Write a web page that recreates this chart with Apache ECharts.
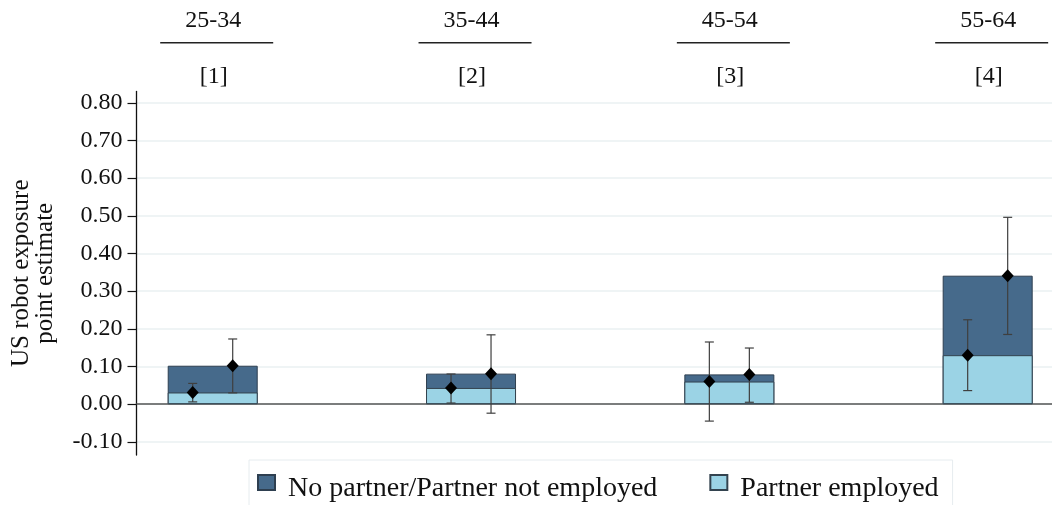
<!DOCTYPE html>
<html>
<head>
<meta charset="utf-8">
<script src="https://cdn.jsdelivr.net/npm/echarts@6/dist/echarts.min.js"></script>
<style>
  html, body { margin: 0; padding: 0; background: #fff; }
  #chart { width: 1052px; height: 505px; }
</style>
</head>
<body>
<div id="chart"></div>
<script>
// Age groups (column headers) and their model numbers
const ageGroups = ['25-34', '35-44', '45-54', '55-64'];
const modelNums = ['[1]', '[2]', '[3]', '[4]'];
const groupPos = [1, 2, 3, 4];

// Point estimates with confidence bounds
const noPartnerEst = [0.102, 0.081, 0.079, 0.341];
const noPartnerLo  = [0.030, -0.024, 0.005, 0.185];
const noPartnerHi  = [0.173, 0.184, 0.149, 0.496];

const partnerEst = [0.031, 0.043, 0.060, 0.130];
const partnerLo  = [0.006, 0.003, -0.045, 0.036];
const partnerHi  = [0.055, 0.080, 0.165, 0.224];

// Y axis tick values
const yTicks = [-0.1, 0, 0.1, 0.2, 0.3, 0.4, 0.5, 0.6, 0.7, 0.8];

const seriesNames = ['No partner/Partner not employed', 'Partner employed'];

const FONT = "'Liberation Serif', 'Times New Roman', serif";
const DARK = '#466a8b';
const LIGHT = '#9bd3e5';

// Whisker + diamond marker, shifted sideways inside the bar by dx pixels
function makeRenderer(dx) {
  return function (params, api) {
    const x = api.value(0);
    const mid = api.coord([x, api.value(1)]);
    const lo = api.coord([x, api.value(2)]);
    const hi = api.coord([x, api.value(3)]);
    const cx = mid[0] + dx;
    const cap = 4.5;
    const lineStyle = { stroke: '#3f3f3f', lineWidth: 1.2, fill: null };
    return {
      type: 'group',
      children: [
        { type: 'line', shape: { x1: cx, y1: hi[1], x2: cx, y2: lo[1] }, style: lineStyle },
        { type: 'line', shape: { x1: cx - cap, y1: hi[1], x2: cx + cap, y2: hi[1] }, style: lineStyle },
        { type: 'line', shape: { x1: cx - cap, y1: lo[1], x2: cx + cap, y2: lo[1] }, style: lineStyle },
        {
          type: 'polygon',
          shape: { points: [[cx, mid[1] - 6.5], [cx + 6, mid[1]], [cx, mid[1] + 6.5], [cx - 6, mid[1]]] },
          style: { fill: '#000' }
        }
      ]
    };
  };
}

const chart = echarts.init(document.getElementById('chart'), null, { renderer: 'canvas' });

const xMin = 0.705, xMax = 4.249;

chart.setOption({
  animation: false,
  backgroundColor: '#fff',
  textStyle: { fontFamily: FONT, color: '#111' },
  grid: { left: 136.5, right: 0, top: 91.5, bottom: 50, containLabel: false },
  legend: {
    data: seriesNames,
    left: 249,
    top: 460,
    orient: 'horizontal',
    icon: 'rect',
    itemWidth: 17,
    itemHeight: 15,
    itemGap: 52,
    padding: [14, 14, 30, 8],
    borderColor: '#e6ecef',
    borderWidth: 1,
    formatter: function (name) { return '{t|' + name + '}'; },
    textStyle: {
      fontFamily: FONT, fontSize: 28, color: '#111',
      rich: { t: { fontFamily: FONT, fontSize: 28, color: '#111', padding: [12, 0, 0, 8] } }
    }
  },
  xAxis: [
    {
      type: 'value',
      min: xMin,
      max: xMax,
      axisLine: { show: true, onZero: true, lineStyle: { color: '#555', width: 1.5 } },
      axisTick: { show: false },
      axisLabel: { show: false },
      splitLine: { show: false }
    },
    {
      type: 'value',
      position: 'top',
      min: xMin,
      max: xMax,
      axisLine: { show: false },
      axisTick: { show: false },
      splitLine: { show: false },
      axisLabel: {
        customValues: groupPos,
        margin: -19,
        formatter: function (v) {
          const i = groupPos.indexOf(v);
          return '{a|' + ageGroups[i] + '}\n{s|}{l|}\n{b|' + modelNums[i] + '}';
        },
        rich: {
          a: { fontFamily: FONT, fontSize: 24, color: '#111', lineHeight: 42, align: 'center', padding: [0, 0, 0, 1] },
          s: { width: 8, height: 1.5, lineHeight: 1.5 },
          l: { width: 113, height: 1.5, lineHeight: 1.5, backgroundColor: '#222' },
          b: { fontFamily: FONT, fontSize: 24, color: '#111', lineHeight: 67, align: 'center', padding: [0, 0, 0, 2] }
        }
      }
    }
  ],
  yAxis: {
    type: 'value',
    min: -0.135,
    max: 0.83,
    name: 'US robot exposure\npoint estimate',
    nameLocation: 'middle',
    nameRotate: 90,
    nameGap: 79,
    nameTextStyle: { fontFamily: FONT, fontSize: 25, color: '#111', lineHeight: 24 },
    axisLine: { show: true, onZero: false, lineStyle: { color: '#111', width: 1.3 } },
    axisTick: { show: true, length: 9, customValues: yTicks, lineStyle: { color: '#111', width: 1.2 } },
    axisLabel: {
      customValues: yTicks,
      margin: 14,
      fontFamily: FONT,
      fontSize: 24,
      color: '#111',
      formatter: function (v) { return v.toFixed(2); }
    },
    splitLine: { show: true, lineStyle: { color: '#eaf0f2', width: 1.5 } }
  },
  series: [
    {
      name: seriesNames[0],
      type: 'bar',
      xAxisIndex: 0,
      barWidth: 90,
      barGap: '-100%',
      data: groupPos.map((x, i) => [x, noPartnerEst[i]]),
      itemStyle: { color: DARK, borderColor: '#2e3f50', borderWidth: 1 },
      z: 2
    },
    {
      name: seriesNames[1],
      type: 'bar',
      xAxisIndex: 0,
      barWidth: 90,
      barGap: '-100%',
      data: groupPos.map((x, i) => [x, partnerEst[i]]),
      itemStyle: { color: LIGHT, borderColor: '#33434f', borderWidth: 1 },
      z: 3
    },
    {
      name: 'partner-ci',
      type: 'custom',
      xAxisIndex: 0,
      renderItem: makeRenderer(-20),
      data: groupPos.map((x, i) => [x, partnerEst[i], partnerLo[i], partnerHi[i]]),
      z: 5,
      silent: true
    },
    {
      name: 'nopartner-ci',
      type: 'custom',
      xAxisIndex: 0,
      renderItem: makeRenderer(20),
      data: groupPos.map((x, i) => [x, noPartnerEst[i], noPartnerLo[i], noPartnerHi[i]]),
      z: 5,
      silent: true
    }
  ]
});
</script>
</body>
</html>
